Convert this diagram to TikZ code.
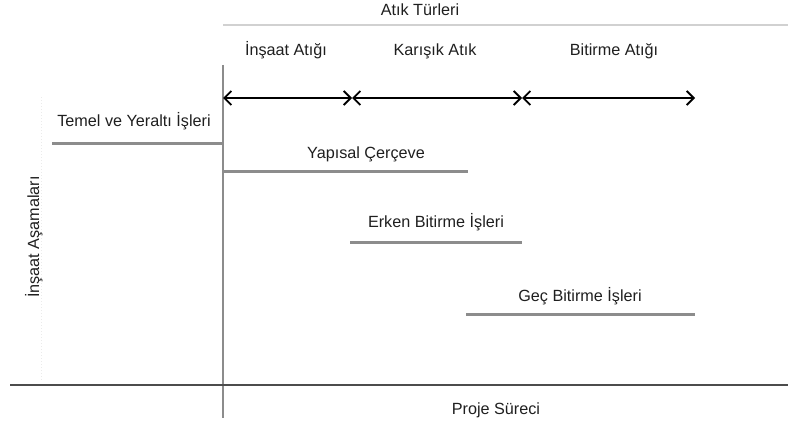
\documentclass[tikz,border=0pt]{standalone}
\usepackage{fontspec}
\setmainfont{Liberation Sans}
\usetikzlibrary{arrows.meta}
\begin{document}
\begin{tikzpicture}[x=1pt,y=-1pt,
  lbl/.style={font=\fontsize{16.2}{19}\selectfont, text=black!88, inner sep=0pt, text height=11.7pt, text depth=3.4pt},
  phase/.style={line width=3pt, draw=black!45},
  axisv/.style={line width=1.3pt, draw=black!45},
  axish/.style={line width=1.4pt, draw=black!70},
  topline/.style={line width=1.2pt, draw=black!18},
  span/.style={line width=1.8pt, draw=black, {Straight Barb[length=7pt,width=14pt,line width=1.8pt]}-{Straight Barb[length=7pt,width=14pt,line width=1.8pt]}}
]
\useasboundingbox (0,0) rectangle (788,428);

% axes
\coordinate (vtop) at (223,65);
\coordinate (vbot) at (223,418);
\coordinate (hl) at (10,385);
\coordinate (hr) at (788,385);
\draw[axisv] (vtop) -- (vbot);
\draw[axish] (hl) -- (hr);
\draw[black!8, line width=1pt, dotted] (41,97) -- (41,380);

% waste types header
\coordinate (tl) at (223,25);
\coordinate (tr) at (788,25);
\draw[topline] (tl) -- (tr);
\node[lbl] (wastetypes) at (420,11) {Atık Türleri};
\node[lbl] (w1) at (286,51) {İnşaat Atığı};
\node[lbl] (w2) at (435,51) {Karışık Atık};
\node[lbl] (w3) at (614,51) {Bitirme Atığı};

% waste spans
\coordinate (a0) at (223,98);
\coordinate (a1) at (352,98);
\coordinate (a2) at (522,98);
\coordinate (a3) at (695,98);
\draw[span] (a0) -- (a1);
\draw[span] (a1) -- (a2);
\draw[span] (a2) -- (a3);

% construction phases
\coordinate (p1s) at (52,143);  \coordinate (p1e) at (224,143);
\coordinate (p2s) at (222,171); \coordinate (p2e) at (468,171);
\coordinate (p3s) at (350,242); \coordinate (p3e) at (522,242);
\coordinate (p4s) at (466,314); \coordinate (p4e) at (695,314);
\draw[phase] (p1s) -- (p1e);
\draw[phase] (p2s) -- (p2e);
\draw[phase] (p3s) -- (p3e);
\draw[phase] (p4s) -- (p4e);
\node[lbl] (ph1) at (134,122) {Temel ve Yeraltı İşleri};
\node[lbl] (ph2) at (366,154) {Yapısal Çerçeve};
\node[lbl] (ph3) at (436,223) {Erken Bitirme İşleri};
\node[lbl] (ph4) at (580,297) {Geç Bitirme İşleri};

% axis titles
\node[lbl, rotate=90] (ylab) at (35,237) {İnşaat Aşamaları};
\node[lbl] (xlab) at (496,410) {Proje Süreci};
\end{tikzpicture}
\end{document}
